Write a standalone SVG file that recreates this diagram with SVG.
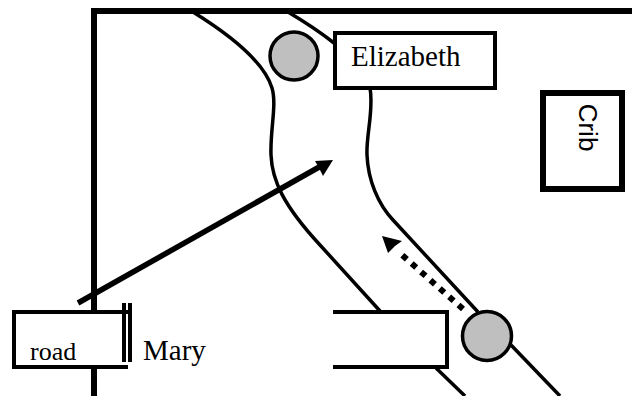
<svg xmlns="http://www.w3.org/2000/svg" width="632" height="396" viewBox="0 0 632 396">
<style>
.w{fill:none;stroke:#000;stroke-width:6}
.c{fill:none;stroke:#000;stroke-width:3.500}
.b{fill:#fff;stroke:#000;stroke-width:4}
.p{fill:#bfbfbf;stroke:#000;stroke-width:3.500}
.s{font-family:"Liberation Serif",serif;font-size:29px;fill:#000}
</style>
<g id="walls">
<path d="M94 368V396" class="w"/>
<path d="M94 312V11H632" class="w"/>
</g>
<g id="connectors">
<path class="c" d="M193 12C235 38 265 65 272 88C277 105 270 130 271 155C272 180 283 205 320 245L380 311"/>
<path class="c" d="M288 12C305 22 320 32 334 43"/>
<path class="c" d="M370 88C374 110 366 135 367 155C368 180 378 204 393 220L478 312"/>
<path class="c" d="M511 345L560 396"/>
<path class="c" d="M436 368L465 396"/>
<path d="M78 303L321 166" fill="none" stroke="#000" stroke-width="5.500"/>
<path d="M333 160L315 161L319 168L323 176Z" fill="#000"/>
<path d="M463 309L402 255" fill="none" stroke="#000" stroke-width="6" stroke-dasharray="6 6.500"/>
<path d="M382 236L402 241L395 246L388 253Z" fill="#000"/>
</g>
<g id="road-left">
<path d="M128 312H14V367H128" fill="none" stroke="#000" stroke-width="4"/>
<path d="M124 303V362M130 303V362" fill="none" stroke="#000" stroke-width="4"/>
<text x="30" y="360" class="s" style="font-size:26px">road</text>
</g>
<g id="mary"><text x="143" y="360" class="s">Mary</text></g>
<g id="road-right"><path d="M333 312H447V367H333" fill="none" stroke="#000" stroke-width="4"/></g>
<g id="elizabeth">
<rect x="335" y="33" width="160" height="55" class="b"/>
<text x="351" y="66" class="s">Elizabeth</text>
</g>
<g id="crib">
<rect x="543" y="93" width="79" height="96" fill="#fff" stroke="#000" stroke-width="6"/>
<text transform="translate(579 127.500) rotate(90)" font-family="Liberation Sans,sans-serif" font-size="26" text-anchor="middle">Crib</text>
</g>
<g id="person-top"><circle cx="294" cy="56" r="24" class="p"/></g>
<g id="person-bottom"><circle cx="487" cy="336" r="24.500" class="p"/></g>
</svg>
